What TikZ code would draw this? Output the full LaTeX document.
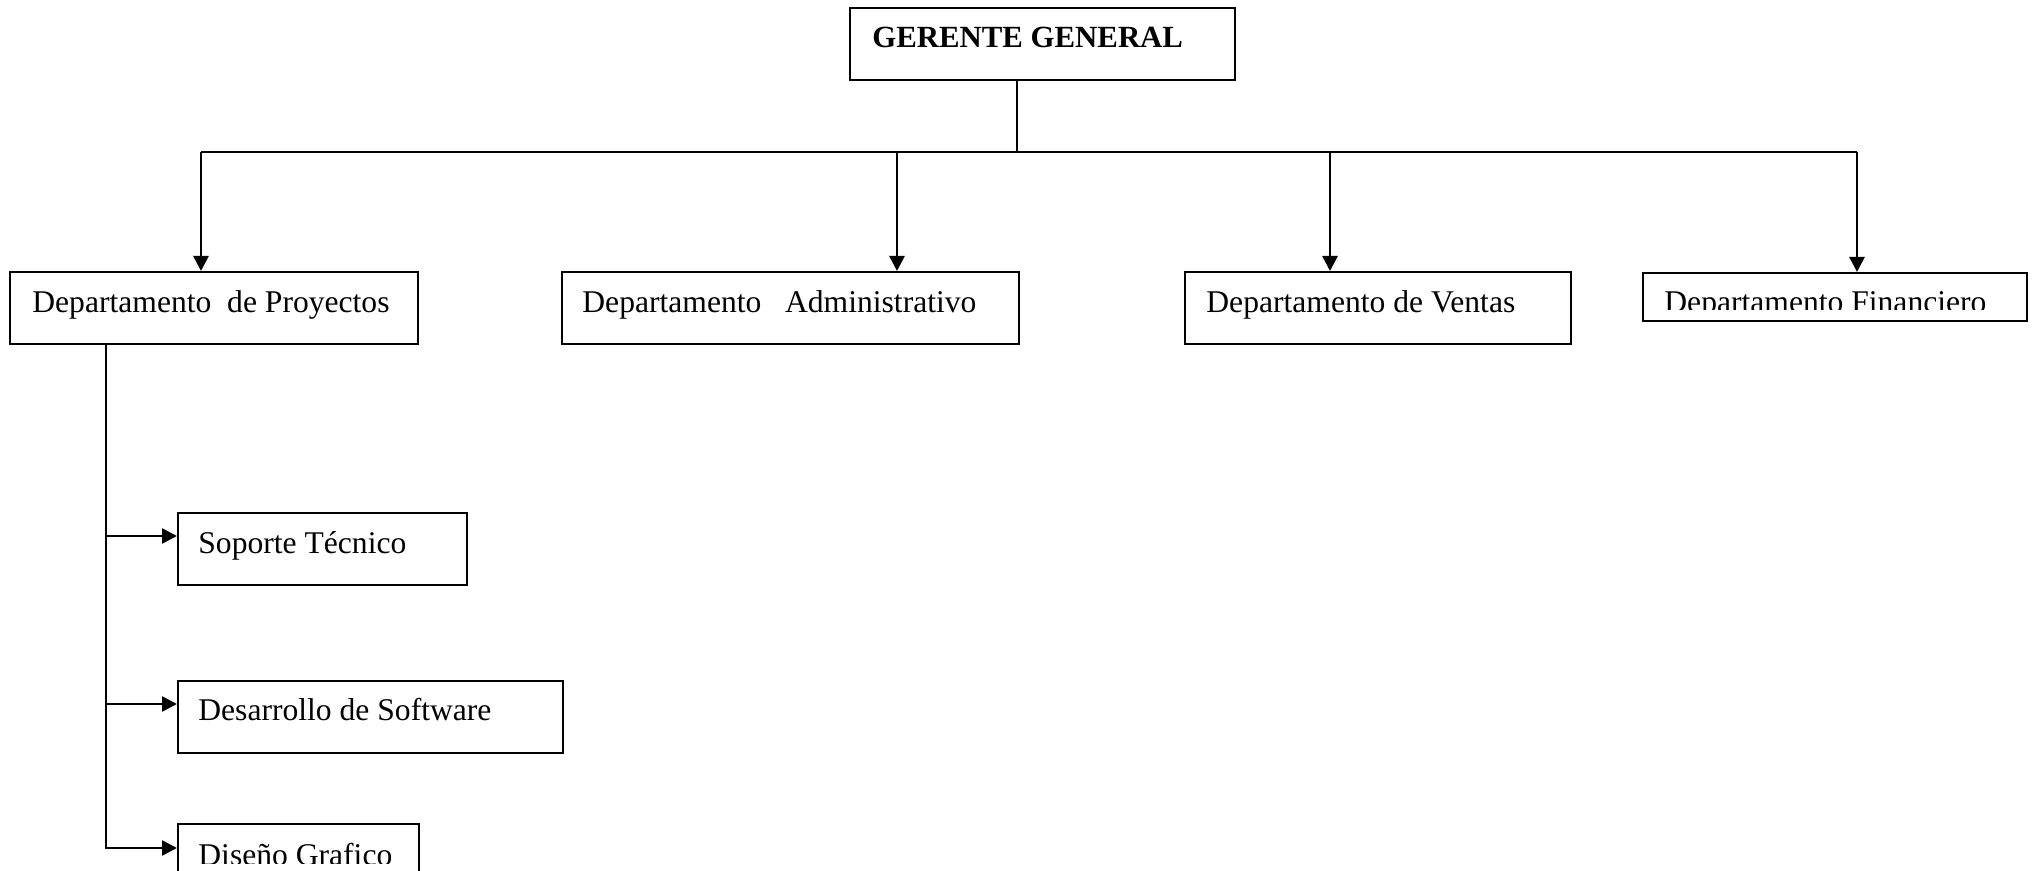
\documentclass[tikz,border=0pt]{standalone}
\usepackage{fontspec}
\setmainfont{Liberation Serif}
\usetikzlibrary{arrows.meta}
\begin{document}
\begin{tikzpicture}[x=0.5pt,y=-0.5pt,
  box/.style={draw,line width=1pt,rectangle,inner sep=0pt,anchor=north west},
  lbl/.style={anchor=base west,inner sep=0pt,font=\fontsize{15.8}{18}\selectfont},
  conn/.style={line width=1pt},
  tip/.tip={Triangle[length=7.5pt,width=7.5pt]},
  arr/.style={conn,line width=1.3pt,-tip}]
\useasboundingbox (0,0) rectangle (2034,871);

% boxes
\node[box,minimum width=192.5pt,minimum height=36pt] (gg) at (849,7) {};
\node[box,minimum width=204pt,minimum height=36pt] (proy) at (9,271) {};
\node[box,minimum width=228.5pt,minimum height=36pt] (adm) at (561,271) {};
\node[box,minimum width=193pt,minimum height=36pt] (ven) at (1184,271) {};
\node[box,minimum width=192pt,minimum height=24pt] (fin) at (1642,272) {};
\node[box,minimum width=144.5pt,minimum height=36pt] (sop) at (177,512) {};
\node[box,minimum width=192.5pt,minimum height=36pt] (des) at (177,680) {};
\begin{scope}
  \clip (0,0) rectangle (2034,871);
  \node[box,minimum width=120.5pt,minimum height=40pt] (dis) at (177,823) {};
\end{scope}

% labels
\node[lbl,font=\fontsize{15.4}{18}\selectfont\bfseries] (tgg) at (872,48) {GERENTE GENERAL};
\node[lbl] (tproy) at (32,313) {Departamento~~de Proyectos};
\node[lbl] (tadm) at (582,313) {Departamento~~~Administrativo};
\node[lbl] (tven) at (1206,313) {Departamento de Ventas};
\begin{scope}
  \clip (1642,272) rectangle (2026,310);
  \node[lbl] (tfin) at (1664,313) {Departamento Financiero};
\end{scope}
\node[lbl] (tsop) at (198,553) {Soporte Técnico};
\node[lbl] (tdes) at (198,720) {Desarrollo de Software};
\begin{scope}
  \clip (177,823) rectangle (418,863);
  \node[lbl] (tdis) at (198,865) {Diseño Grafico};
\end{scope}

% connectors
\coordinate (j) at (1017,152);
\coordinate (bl) at (201,152);
\coordinate (br) at (1857,152);
\coordinate (ba) at (897,152);
\coordinate (bv) at (1330,152);
\draw[conn] (gg.south -| j) -- (j);
\draw[conn] (bl) -- (br);
\draw[arr] (bl) -- (bl |- proy.north);
\draw[arr] (ba) -- (ba |- adm.north);
\draw[arr] (bv) -- (bv |- ven.north);
\draw[arr] (br) -- (br |- fin.north);

\coordinate (v) at (106,848);
\coordinate (vs) at (106,536);
\coordinate (vd) at (106,704);
\draw[arr] (proy.south -| v) -- (v) -- (v -| dis.west);
\draw[arr] (vs) -- (vs -| sop.west);
\draw[arr] (vd) -- (vd -| des.west);
\end{tikzpicture}
\end{document}
